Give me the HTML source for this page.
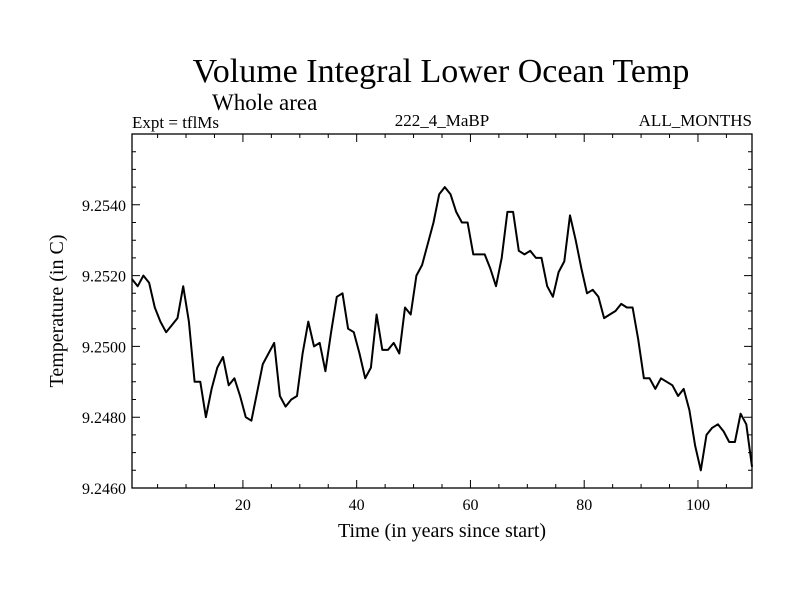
<!DOCTYPE html>
<html><head><meta charset="utf-8"><style>
html,body{margin:0;padding:0;background:#fff;}
svg{display:block;font-family:"Liberation Serif",serif;}
</style></head><body>
<svg id="chart" width="800" height="600">
<text x="441" y="82" font-size="34" text-anchor="middle">Volume Integral Lower Ocean Temp</text>
<text x="212" y="110" font-size="23">Whole area</text>
<text x="132" y="128" font-size="17">Expt = tflMs</text>
<text x="442" y="126" font-size="17" text-anchor="middle">222_4_MaBP</text>
<text x="752" y="126" font-size="17" text-anchor="end">ALL_MONTHS</text>
<text x="442" y="537" font-size="20" text-anchor="middle">Time (in years since start)</text>
<text transform="translate(63,311) rotate(-90)" font-size="20" text-anchor="middle">Temperature (in C)</text>
<g id="axes"></g>
<g id="plot"></g>
</svg>
<script>
const years = [];
for (let i = 0; i < 110; i++) years.push(i + 0.5);
const temps = [9.2519,9.2517,9.2520,9.2518,9.2511,9.2507,9.2504,9.2506,9.2508,9.2517,
9.2507,9.2490,9.2490,9.2480,9.2488,9.2494,9.2497,9.2489,9.2491,9.2486,
9.2480,9.2479,9.2487,9.2495,9.2498,9.2501,9.2486,9.2483,9.2485,9.2486,
9.2498,9.2507,9.2500,9.2501,9.2493,9.2504,9.2514,9.2515,9.2505,9.2504,
9.2498,9.2491,9.2494,9.2509,9.2499,9.2499,9.2501,9.2498,9.2511,9.2509,
9.2520,9.2523,9.2529,9.2535,9.2543,9.2545,9.2543,9.2538,9.2535,9.2535,
9.2526,9.2526,9.2526,9.2522,9.2517,9.2525,9.2538,9.2538,9.2527,9.2526,
9.2527,9.2525,9.2525,9.2517,9.2514,9.2521,9.2524,9.2537,9.2530,9.2522,
9.2515,9.2516,9.2514,9.2508,9.2509,9.2510,9.2512,9.2511,9.2511,9.2502,
9.2491,9.2491,9.2488,9.2491,9.2490,9.2489,9.2486,9.2488,9.2482,9.2472,
9.2465,9.2475,9.2477,9.2478,9.2476,9.2473,9.2473,9.2481,9.2478,9.2466];
const xMajorTicks = [20,40,60,80,100];
const xTickLabels = ["20","40","60","80","100"];
const yMajorTicks = [9.2460,9.2480,9.2500,9.2520,9.2540];
const yTickLabels = ["9.2460","9.2480","9.2500","9.2520","9.2540"];

const L=132,R=752,T=134,B=488, X0=0.5,X1=109.5, Y0=9.2460,Y1=9.2560;
const xs=v=>L+(v-X0)/(X1-X0)*(R-L);
const ys=v=>B-(v-Y0)/(Y1-Y0)*(B-T);
const NS="http://www.w3.org/2000/svg";
const axes=document.getElementById('axes'), plot=document.getElementById('plot');
function mk(tag,attrs,parent){const e=document.createElementNS(NS,tag);for(const k in attrs)e.setAttribute(k,attrs[k]);parent.appendChild(e);return e;}

const frame=mk('rect',{x:L,y:T,width:R-L,height:B-T,fill:'none',stroke:'#000','stroke-width':1.3},axes);



let p='';
for(let v=5;v<X1;v+=5){const x=xs(v);const len=(v%20===0)?8:4;p+=`M${x},${B}v${-len}M${x},${T}v${len}`;}
for(let k=0;k<=20;k++){const v=Y0+k*0.0005;const y=ys(v);const len=(k%4===0)?8:4;p+=`M${L},${y}h${len}M${R},${y}h${-len}`;}
const ticks=mk('path',{d:p,stroke:'#000','stroke-width':1,fill:'none'},axes);



xMajorTicks.forEach((v,i)=>{const t=mk('text',{x:xs(v),y:B+22,'font-size':16,'text-anchor':'middle'},axes);t.textContent=xTickLabels[i];

});
yMajorTicks.forEach((v,i)=>{const t=mk('text',{x:L-6,y:ys(v)+6,'font-size':16,'text-anchor':'end'},axes);t.textContent=yTickLabels[i];

});

const pts=years.map((v,i)=>xs(v).toFixed(1)+','+ys(temps[i]).toFixed(1)).join(' ');
const line=mk('polyline',{points:pts,fill:'none',stroke:'#000','stroke-width':2,'stroke-linejoin':'round'},plot);


</script>
</body></html>
